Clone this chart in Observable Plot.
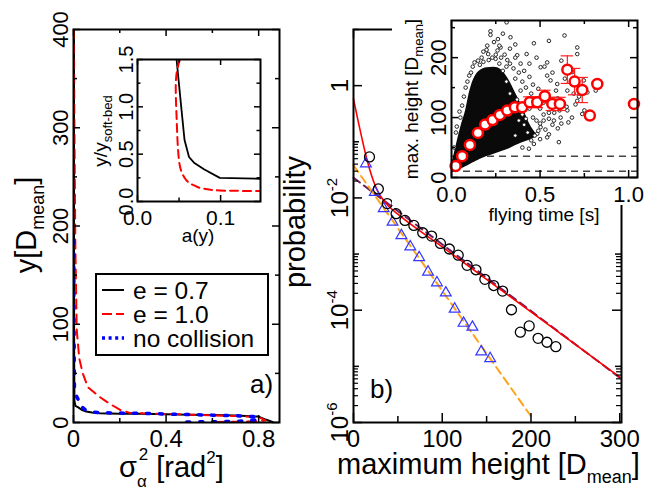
<!DOCTYPE html>
<html><head><meta charset="utf-8">
<script src="https://cdn.jsdelivr.net/npm/d3@7"></script>
<script src="https://cdn.jsdelivr.net/npm/@observablehq/plot@0.6"></script>
<style>
body{margin:0;background:#fff}
#wrap{position:relative;width:657px;height:493px;overflow:hidden;background:#fff}
#wrap > svg, #wrap > div{position:absolute;left:0;top:0}
</style></head><body><div id="wrap"></div>
<script>
const W = 657, H = 493;
const FONT = "Liberation Sans, Arial, Helvetica, sans-serif";

// ---------- Panel a) main ----------
const aTicksX = [0, 0.4, 0.8];
const aMinorX = [0.2, 0.6];
const aTicksY = [0, 100, 200, 300, 400];
const aMinorY = [50, 150, 250, 350];
const e07X = [0.002,0.002,0.003,0.004,0.008,0.019,0.035,0.055,0.08,0.113,0.2,0.3,0.4,0.5,0.6,0.7,0.8,0.83,0.86];
const e07Y = [400,200,60,22,17,15.6,13,11.2,10.2,9.5,9,8.8,8.5,8,7.6,7,6,3,0.5];
const e10X = [0.002,0.004,0.008,0.014,0.025,0.04,0.062,0.113,0.157,0.2,0.24,0.3,0.4,0.5,0.6,0.7,0.8,0.83,0.75,0.62];
const e10Y = [400,300,180,94,65,50,36,26,19,13,10,9.3,8.7,8,7.2,6.5,5.5,2,0.9,0.6];
const noColX = [0.001,0.002,0.004,0.01,0.019,0.035,0.055,0.08,0.113,0.2,0.3,0.4,0.5,0.6,0.7,0.78,0.8,0.7,0.55,0.45];
const noColY = [185,100,36,28,24,16,12.2,10.8,10,9.6,9.2,8.7,8,7.5,7,6,3,1,0.7,0.5];
const legendLabels = ["e = 0.7", "e = 1.0", "no collision"];

// ---------- Inset a) ----------
const iaTicksX = [0, 0.1];
const iaMinorX = [0.05];
const iaTicksY = [0, 0.5, 1, 1.5];
const iaMinorY = [0.25, 0.75, 1.25];
const iaBlackX = [0.047,0.0526,0.0566,0.062,0.068,0.08,0.099,0.148];
const iaBlackY = [1.5,1.0,0.65,0.47,0.41,0.34,0.25,0.24];
const iaRedX = [0.051,0.047,0.046,0.047,0.050,0.056,0.068,0.08,0.099,0.148];
const iaRedY = [1.5,1.35,1.21,0.9,0.43,0.26,0.17,0.135,0.116,0.11];

// ---------- Panel b) main ----------
const bTicksX = [0, 100, 200, 300];
const bMinorX = [50, 150, 250];
const bTicksY = [1, 1e-2, 1e-4, 1e-6];
const bMidY = [10, 1e-1, 1e-3, 1e-5];
const bMinorY = [2e-2,3e-2,4e-2,5e-2,6e-2,7e-2,8e-2,9e-2,2e-4,3e-4,4e-4,5e-4,6e-4,7e-4,8e-4,9e-4,2e-6,3e-6,4e-6,5e-6,6e-6,7e-6,8e-6,9e-6];
const circX = [18,28,38,48,58,68,78,88,98,108,118,128,138,148,158,168,178,188,198,208,218,228];
const circP = [0.0537,0.01445,0.00794,0.00525,0.00398,0.00324,0.0024,0.00209,0.00155,0.00123,0.000955,0.00063,0.000525,0.000355,0.000275,0.000219,0.000102,0.0000407,0.0000525,0.0000316,0.0000269,0.0000224];
const triX = [14,24,34,44,54,64,74,84,94,104,114,124,134,144,154];
const triP = [0.0407,0.0126,0.00646,0.00372,0.00214,0.00135,0.00087,0.000479,0.000309,0.000204,0.000105,0.0000589,0.0000501,0.0000182,0.0000138];
const fitX = [0,5,10,15,20,25,30,40,50,100,200,300];
const fitP = [0.579,0.2427,0.1057,0.0495,0.0261,0.01585,0.01104,0.00702,0.00513,0.001348,0.0000931,0.00000643];
const tailX = [0,300];
const tailP = [0.0229,0.0000063];
const orangeX = [0,200];
const orangeP = [0.038,0.00000129];

// ---------- Inset b) ----------
const ibTicksX = [0, 0.5, 1.0];
const ibMinorX = [0.25, 0.75];
const ibTicksY = [0, 100, 200];
const ibMinorY = [50, 150, 250];
const ibLevels = [35.5, 10.5];
const cloudT  = [0,0.02,0.04,0.06,0.08,0.10,0.12,0.14,0.16,0.20,0.24,0.28,0.32,0.36,0.40,0.44,0.48];
const cloudLo = [8,11,13,15,18,21,24,27,30,35,39,43,47,53,58,62,68];
const cloudHi = [20,45,70,92,112,140,160,172,178,183,184,180,165,142,118,90,72];
const scatT = [0.311,0.22,0.22,0.262,0.333,0.202,0.198,0.277,0.207,0.249,0.315,0.371,0.424,0.465,0.55,0.638,0.71,0.71,0.54,0.503,0.525,0.54,0.559,0.597,0.682,0.747,0.767,0.814,0.654,0.71,0.738,0.654,0.616,0.578,0.503,0.484,0.54,0.606,0.465,0.437,
  0.15,0.17,0.12,0.23,0.3,0.26,0.33,0.35,0.38,0.40,0.42,0.45,0.47,0.50,0.52,0.55,0.50,0.53,0.46,0.43,0.39,0.36,0.08,0.06,0.05,0.03,0.10,0.40,0.45,0.50,0.55,0.60,0.62,0.58,0.65,0.70,0.68,0.72,0.75,0.60,0.63,0.13,0.18,0.28,0.31,0.44,0.48,0.41,0.36,
  0.33,0.36,0.39,0.41,0.44,0.46,0.49,0.51,0.52,0.56,0.58,0.61,0.57,0.49,0.47,0.43,0.52,0.55,0.38,0.40,0.42,0.35,0.37,0.33,0.31,0.29,0.27,0.25,0.21,0.16,0.11,0.09,0.07,0.045,0.025,0.015,0.66,0.69,0.74,0.64,0.59,0.57,0.62,0.48,0.44,0.27,0.24,0.18,0.29,0.36];
const scatH = [259,244,238,231,234,220,213,217,206,198,196,204,206,224,228,237,217,206,192,184,185,170,162,156,176,162,142,145,145,128,106,112,100,95,84,73,67,59,56,48,
  195,200,185,200,205,212,190,182,175,160,150,140,130,115,105,98,90,80,100,130,145,165,150,120,100,85,170,50,62,64,72,82,90,108,118,122,100,135,112,132,125,192,193,200,185,115,95,88,70,
  215,200,190,178,168,155,148,138,125,118,125,112,88,78,70,75,95,108,95,105,98,120,130,140,160,178,190,205,196,188,175,160,135,110,75,50,92,140,150,165,145,175,195,200,190,220,226,210,240,222];
const meanT = [0.023,0.06,0.104,0.149,0.19,0.232,0.273,0.315,0.358,0.399,0.442,0.484,0.527,0.569,0.612,0.654,0.695,0.738,0.781,0.823,1.03];
const meanH = [19,35.6,54.4,74.4,88.3,96,104.4,111.7,117.2,117.2,125.6,125.6,135.6,122.8,122.8,180,160,146,103.3,156,122.8];
const meanErr = [0,0,0,0,0,0,0,0,0,0,9,9,10,11,11,23,22,21,0,0,0];

// ---------- helpers ----------
const zip = (xs, ys) => xs.map((x, i) => ({x, y: ys[i]}));
const baseStyle = {background: "transparent", fontFamily: FONT, overflow: "visible", color: "black"};
function frameTicks(xs, ys, fw, fh, len, sw = 1.5) {
  const o = {stroke: "black", strokeWidth: sw};
  return [
    Plot.tickX(xs, {x: d => d, insetTop: fh - len, ...o}),
    Plot.tickX(xs, {x: d => d, insetBottom: fh - len, ...o}),
    Plot.tickY(ys, {y: d => d, insetRight: fw - len, ...o}),
    Plot.tickY(ys, {y: d => d, insetLeft: fw - len, ...o})
  ];
}
const wrap = document.getElementById("wrap");

// ---------- Panel a plot ----------
{
  const L = 73, R = 279, T = 29, B = 422;
  const fw = R - L, fh = B - T;
  const p = Plot.plot({
    width: W, height: H, marginLeft: L, marginRight: W - R, marginTop: T, marginBottom: H - B,
    x: {domain: [0, 0.89], label: null}, y: {domain: [0, 400], label: null},
    style: baseStyle,
    marks: [
      Plot.line(zip(e07X, e07Y), {x: "x", y: "y", stroke: "black", strokeWidth: 2, clip: true}),
      Plot.line(zip(e10X, e10Y), {x: "x", y: "y", stroke: "#ff0000", strokeWidth: 2, strokeDasharray: "9,6", clip: true}),
      Plot.line(zip(noColX, noColY), {x: "x", y: "y", stroke: "#0000ff", strokeWidth: 3.5, strokeDasharray: "3,10", clip: true}),
      ...frameTicks(aTicksX, aTicksY, fw, fh, 7),
      ...frameTicks(aMinorX, aMinorY, fw, fh, 4),
      Plot.axisX({ticks: aTicksX, tickSize: 0, tickPadding: 7, fontSize: 24, tickFormat: d => d === 0 ? "0" : d.toFixed(1), label: null}),
      Plot.axisY({ticks: aTicksY, tickSize: 0, tickPadding: 6, tickRotate: -90, fontSize: 22, label: null}),
      Plot.frame({stroke: "black", strokeWidth: 2})
    ]
  });
  wrap.appendChild(p);
}

// ---------- Inset a plot ----------
{
  const L = 137, R = 260, T = 59, B = 201;
  const fw = R - L, fh = B - T;
  const p = Plot.plot({
    width: W, height: H, marginLeft: L, marginRight: W - R, marginTop: T, marginBottom: H - B,
    x: {domain: [0, 0.148], label: null}, y: {domain: [0, 1.5], label: null},
    style: baseStyle,
    marks: [
      Plot.frame({fill: "white", stroke: "none"}),
      Plot.line(zip(iaBlackX, iaBlackY), {x: "x", y: "y", stroke: "black", strokeWidth: 1.8, clip: true}),
      Plot.line(zip(iaRedX, iaRedY), {x: "x", y: "y", stroke: "#ff0000", strokeWidth: 2, strokeDasharray: "8,5", curve: "monotone-y", clip: true}),
      ...frameTicks(iaTicksX, iaTicksY, fw, fh, 6),
      ...frameTicks(iaMinorX, iaMinorY, fw, fh, 3.5),
      Plot.axisX({ticks: iaTicksX, tickSize: 0, tickPadding: 9, fontSize: 21, tickFormat: d => d.toFixed(1), label: null}),
      Plot.axisY({ticks: iaTicksY, tickSize: 0, tickPadding: 5, tickRotate: -90, fontSize: 20, label: null}),
      Plot.frame({stroke: "black", strokeWidth: 2})
    ]
  });
  wrap.appendChild(p);
}

// ---------- Panel b plot ----------
{
  const L = 353, R = 621, T = 29, B = 422;
  const fw = R - L, fh = B - T;
  const p = Plot.plot({
    width: W, height: H, marginLeft: L, marginRight: W - R, marginTop: T, marginBottom: H - B,
    x: {domain: [0, 302], label: null}, y: {type: "log", domain: [1e-6, 10], label: null},
    style: baseStyle,
    marks: [
      Plot.line(zip(tailX, tailP), {x: "x", y: "y", stroke: "#6a1f62", strokeWidth: 2, strokeDasharray: "8,5"}),
      Plot.line(zip(orangeX, orangeP), {x: "x", y: "y", stroke: "#ffa31a", strokeWidth: 2, strokeDasharray: "8,5"}),
      Plot.line(zip(fitX, fitP), {x: "x", y: "y", stroke: "#ff0000", strokeWidth: 1.6, curve: "monotone-x"}),
      Plot.dot(zip(triX, triP), {x: "x", y: "y", symbol: "triangle", r: 4, stroke: "#3535ff", strokeWidth: 1.2, fill: "none"}),
      Plot.dot(zip(circX, circP), {x: "x", y: "y", r: 5, stroke: "black", strokeWidth: 1.3, fill: "none"}),
      ...frameTicks(bTicksX, bTicksY, fw, fh, 9),
      ...frameTicks(bMinorX, bMidY, fw, fh, 6),
      ...frameTicks([], bMinorY, fw, fh, 5, 1.2),
      Plot.axisX({ticks: bTicksX, tickSize: 0, tickPadding: 7, fontSize: 24, label: null}),
      Plot.axisY({ticks: bTicksY, tickSize: 0, tickPadding: 6, tickRotate: -90, fontSize: 24, label: null,
        tickFormat: d => d === 1 ? "1" : "10^" + Math.round(Math.log10(d))}),
      Plot.frame({stroke: "black", strokeWidth: 2})
    ]
  });
  d3.select(p).selectAll("g[aria-label='y-axis tick label'] text").each(function () {
    const m = /^10\^(.+)$/.exec(this.textContent);
    if (m) {
      this.textContent = "";
      const s = d3.select(this);
      s.append("tspan").text("10");
      s.append("tspan").attr("dy", -11).attr("font-size", 15).text(m[1]);
    }
  });
  wrap.appendChild(p);
}

// white background of inset b
{
  const bg = document.createElement("div");
  bg.style.cssText = "left:392px;top:0px;width:265px;height:205px;background:#fff;";
  wrap.appendChild(bg);
}

// ---------- Inset b plot ----------
{
  const L = 451, R = 637, T = 20, B = 177;
  const fw = R - L, fh = B - T;
  const errRows = meanT.map((t, i) => ({t, lo: meanH[i] - meanErr[i], hi: meanH[i] + meanErr[i], e: meanErr[i]})).filter(d => d.e > 0);
  const capRows = errRows.flatMap(d => [{t: d.t, y: d.lo}, {t: d.t, y: d.hi}]);
  const p = Plot.plot({
    width: W, height: H, marginLeft: L, marginRight: W - R, marginTop: T, marginBottom: H - B,
    x: {domain: [0, 1.05], label: null}, y: {domain: [0, 262], label: null},
    style: baseStyle,
    marks: [
      Plot.ruleY(ibLevels, {stroke: "#444", strokeWidth: 1.5, strokeDasharray: "7,5"}),
      Plot.areaY(cloudT.map((t, i) => ({t, lo: cloudLo[i], hi: cloudHi[i]})), {x: "t", y1: "lo", y2: "hi", fill: "#0a0a0a", curve: "monotone-x"}),
      Plot.dot(zip(scatT, scatH), {x: "x", y: "y", r: 1.8, stroke: "#111", strokeWidth: 0.9, fill: "white"}),
      Plot.ruleX(errRows, {x: "t", y1: "lo", y2: "hi", stroke: "#ff2020", strokeWidth: 1.2}),
      Plot.ruleY(capRows, {y: "y", x1: d => d.t - 0.035, x2: d => d.t + 0.035, stroke: "#ff2020", strokeWidth: 1.2}),
      Plot.dot(zip(meanT, meanH), {x: "x", y: "y", r: 5, stroke: "#ff0000", strokeWidth: 2.5, fill: "white"}),
      ...frameTicks(ibTicksX, ibTicksY, fw, fh, 7),
      ...frameTicks(ibMinorX, ibMinorY, fw, fh, 4),
      Plot.axisX({ticks: ibTicksX, tickSize: 0, tickPadding: 9, fontSize: 22, tickFormat: d => d.toFixed(1), label: null}),
      Plot.axisY({ticks: ibTicksY, tickSize: 0, tickPadding: 6, tickRotate: -90, fontSize: 22, label: null}),
      Plot.frame({stroke: "black", strokeWidth: 2})
    ]
  });
  wrap.appendChild(p);
}

// ---------- Overlay text: titles, legend, panel letters ----------
{
  const ov = d3.create("svg").attr("width", W).attr("height", H).style("font-family", FONT).style("overflow", "visible");
  const txt = (x, y, rot, anchor, size) => ov.append("text")
    .attr("transform", `translate(${x},${y})` + (rot ? ` rotate(${rot})` : ""))
    .attr("text-anchor", anchor).attr("font-size", size).attr("fill", "black");
  let t;
  // panel a y title
  t = txt(36, 225, -90, "middle", 29);
  t.append("tspan").text("y[D");
  t.append("tspan").attr("font-size", 18).attr("dy", 8).text("mean");
  t.append("tspan").attr("dy", -8).text("]");
  // panel a x title
  t = txt(119, 477, 0, "start", 29);
  t.append("tspan").text("σ");
  t.append("tspan").attr("font-size", 17).attr("dy", 10).text("α");
  t.append("tspan").attr("font-size", 17).attr("dx", -8).attr("dy", -27).text("2");
  t.append("tspan").attr("dy", 17).text(" [rad");
  t.append("tspan").attr("font-size", 17).attr("dy", -14).text("2");
  t.append("tspan").attr("dy", 14).text("]");
  // panel b titles
  t = txt(305, 222, -90, "middle", 29);
  t.text("probability");
  t = txt(337, 474, 0, "start", 29);
  t.append("tspan").text("maximum height [D");
  t.append("tspan").attr("font-size", 18).attr("dy", 9).text("mean");
  t.append("tspan").attr("dy", -9).text("]");
  // inset a titles
  t = txt(107, 131, -90, "middle", 19);
  t.append("tspan").text("y/y");
  t.append("tspan").attr("font-size", 13).attr("dy", 5).text("soft-bed");
  txt(198, 242, 0, "middle", 19).text("a(y)");
  // inset b titles
  t = txt(418, 99, -90, "middle", 19);
  t.append("tspan").text("max. height [D");
  t.append("tspan").attr("font-size", 13).attr("dy", 5).text("mean");
  t.append("tspan").attr("dy", -5).text("]");
  txt(544, 221, 0, "middle", 19).text("flying time [s]");
  // panel letters
  txt(250, 393, 0, "start", 26).text("a)");
  txt(370, 398, 0, "start", 26).text("b)");
  // legend
  ov.append("rect").attr("x", 96).attr("y", 274).attr("width", 172).attr("height", 81)
    .attr("fill", "white").attr("stroke", "black").attr("stroke-width", 2);
  const legStyles = [
    {stroke: "black", dash: null, w: 2},
    {stroke: "#ff0000", dash: "10,4", w: 2},
    {stroke: "#0000ff", dash: "3,3.6", w: 3.5}
  ];
  legendLabels.forEach((lab, i) => {
    const y = 290 + 24 * i;
    const s = legStyles[i];
    const ln = ov.append("line").attr("x1", 102).attr("x2", 124).attr("y1", y).attr("y2", y)
      .attr("stroke", s.stroke).attr("stroke-width", s.w);
    if (s.dash) ln.attr("stroke-dasharray", s.dash);
    txt(133, y + 8.5, 0, "start", 24.5).text(lab);
  });
  wrap.appendChild(ov.node());
}
</script></body></html>
